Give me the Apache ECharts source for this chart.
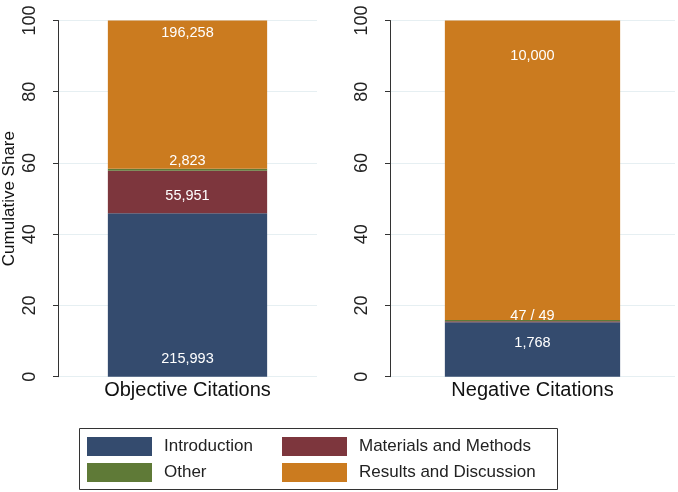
<!DOCTYPE html>
<html>
<head>
<meta charset="utf-8">
<script src="https://cdn.jsdelivr.net/npm/echarts@6/dist/echarts.min.js"></script>
<style>html,body{margin:0;padding:0;background:#fff}#c{width:678px;height:492px}</style>
</head>
<body>
<div id="c"></div>
<script>
const categories = ['Objective Citations', 'Negative Citations'];
const sections = ['Introduction', 'Materials and Methods', 'Other', 'Results and Discussion'];
const colors = ['#344B6E', '#7D363D', '#5F7A37', '#CB7B1F'];
const yTicks = [0, 20, 40, 60, 80, 100];
// cumulative-share segments (percent), per panel, in section order
const shareObjective = [45.9, 11.9, 0.6, 41.6];
const shareNegative = [15.3, 0.3, 0.3, 84.1];
// counts shown on the bars
const labelObjective = ['215,993', '55,951', '2,823', '196,258'];
const labelNegative = ['1,768', '', '47 / 49', '10,000'];

const labelStyles = [
  [ {position:'insideBottom', distance:10}, {position:'inside', offset:[0,4]}, {position:'top', distance:0}, {position:'insideTop', distance:5} ],
  [ {position:'inside', offset:[0,-6]}, {show:false}, {position:'top', distance:-3}, {position:'insideTop', distance:28} ]
];

const panels = [
  {share: shareObjective, labels: labelObjective},
  {share: shareNegative, labels: labelNegative}
];

const font = 'Liberation Sans, Arial, sans-serif';
const series = [];
panels.forEach((p, pi) => {
  sections.forEach((s, si) => {
    const ls = labelStyles[pi][si];
    series.push({
      type: 'bar', name: s, stack: 'p' + pi,
      xAxisIndex: pi, yAxisIndex: pi,
      barWidth: '61.5%',
      itemStyle: {color: colors[si]},
      data: [p.share[si]],
      label: Object.assign({
        show: true, color: '#fff', fontSize: 14.5,
        fontFamily: font,
        formatter: () => p.labels[si]
      }, ls)
    });
  });
});

function yAxis(idx, named) {
  return {
    type: 'value', gridIndex: idx, min: 0, max: 100, interval: 20,
    name: named ? 'Cumulative Share' : '', nameLocation: 'middle', nameGap: 40,
    nameTextStyle: {fontSize: 17, color: '#111', fontFamily: font},
    axisLine: {show: true, lineStyle: {color: '#333', width: 1}},
    axisTick: {show: true, length: 5, lineStyle: {color: '#333'}},
    axisLabel: {rotate: 90, fontSize: 18, color: '#222', margin: 19, fontFamily: font,
      formatter: v => yTicks.includes(v) ? String(v) : ''},
    splitLine: {show: true, lineStyle: {color: '#e6eff2', width: 1}}
  };
}
function xAxis(idx) {
  return {
    type: 'category', gridIndex: idx, data: [categories[idx]],
    axisLine: {show: false}, axisTick: {show: false},
    axisLabel: {fontSize: 20, color: '#111', margin: 4, fontFamily: font}
  };
}

const chart = echarts.init(document.getElementById('c'), null, {renderer: 'canvas'});
chart.setOption({
  animation: false,
  backgroundColor: '#fff',
  grid: [
    {left: 52, right: 361, top: 20.5, bottom: 115.3},
    {left: 390, right: 3, top: 20.5, bottom: 115.3}
  ],
  xAxis: [xAxis(0), xAxis(1)],
  yAxis: [yAxis(0, true), yAxis(1, false)],
  legend: [
    {data: [sections[0], sections[2]], orient: 'vertical', left: 87, top: 437, itemWidth: 65, itemHeight: 19, itemGap: 7,
     icon: 'rect', textStyle: {fontSize: 17, color: '#222', fontFamily: font, padding: [0,0,0,7]}, padding: 0},
    {data: [sections[1], sections[3]], orient: 'vertical', left: 282, top: 437, itemWidth: 65, itemHeight: 19, itemGap: 7,
     icon: 'rect', textStyle: {fontSize: 17, color: '#222', fontFamily: font, padding: [0,0,0,7]}, padding: 0}
  ],
  graphic: [{type: 'rect', shape: {x: 79.5, y: 428.5, width: 478, height: 61}, style: {fill: 'none', stroke: '#333', lineWidth: 1}, silent: true}],
  series: series
});
</script>
</body>
</html>
